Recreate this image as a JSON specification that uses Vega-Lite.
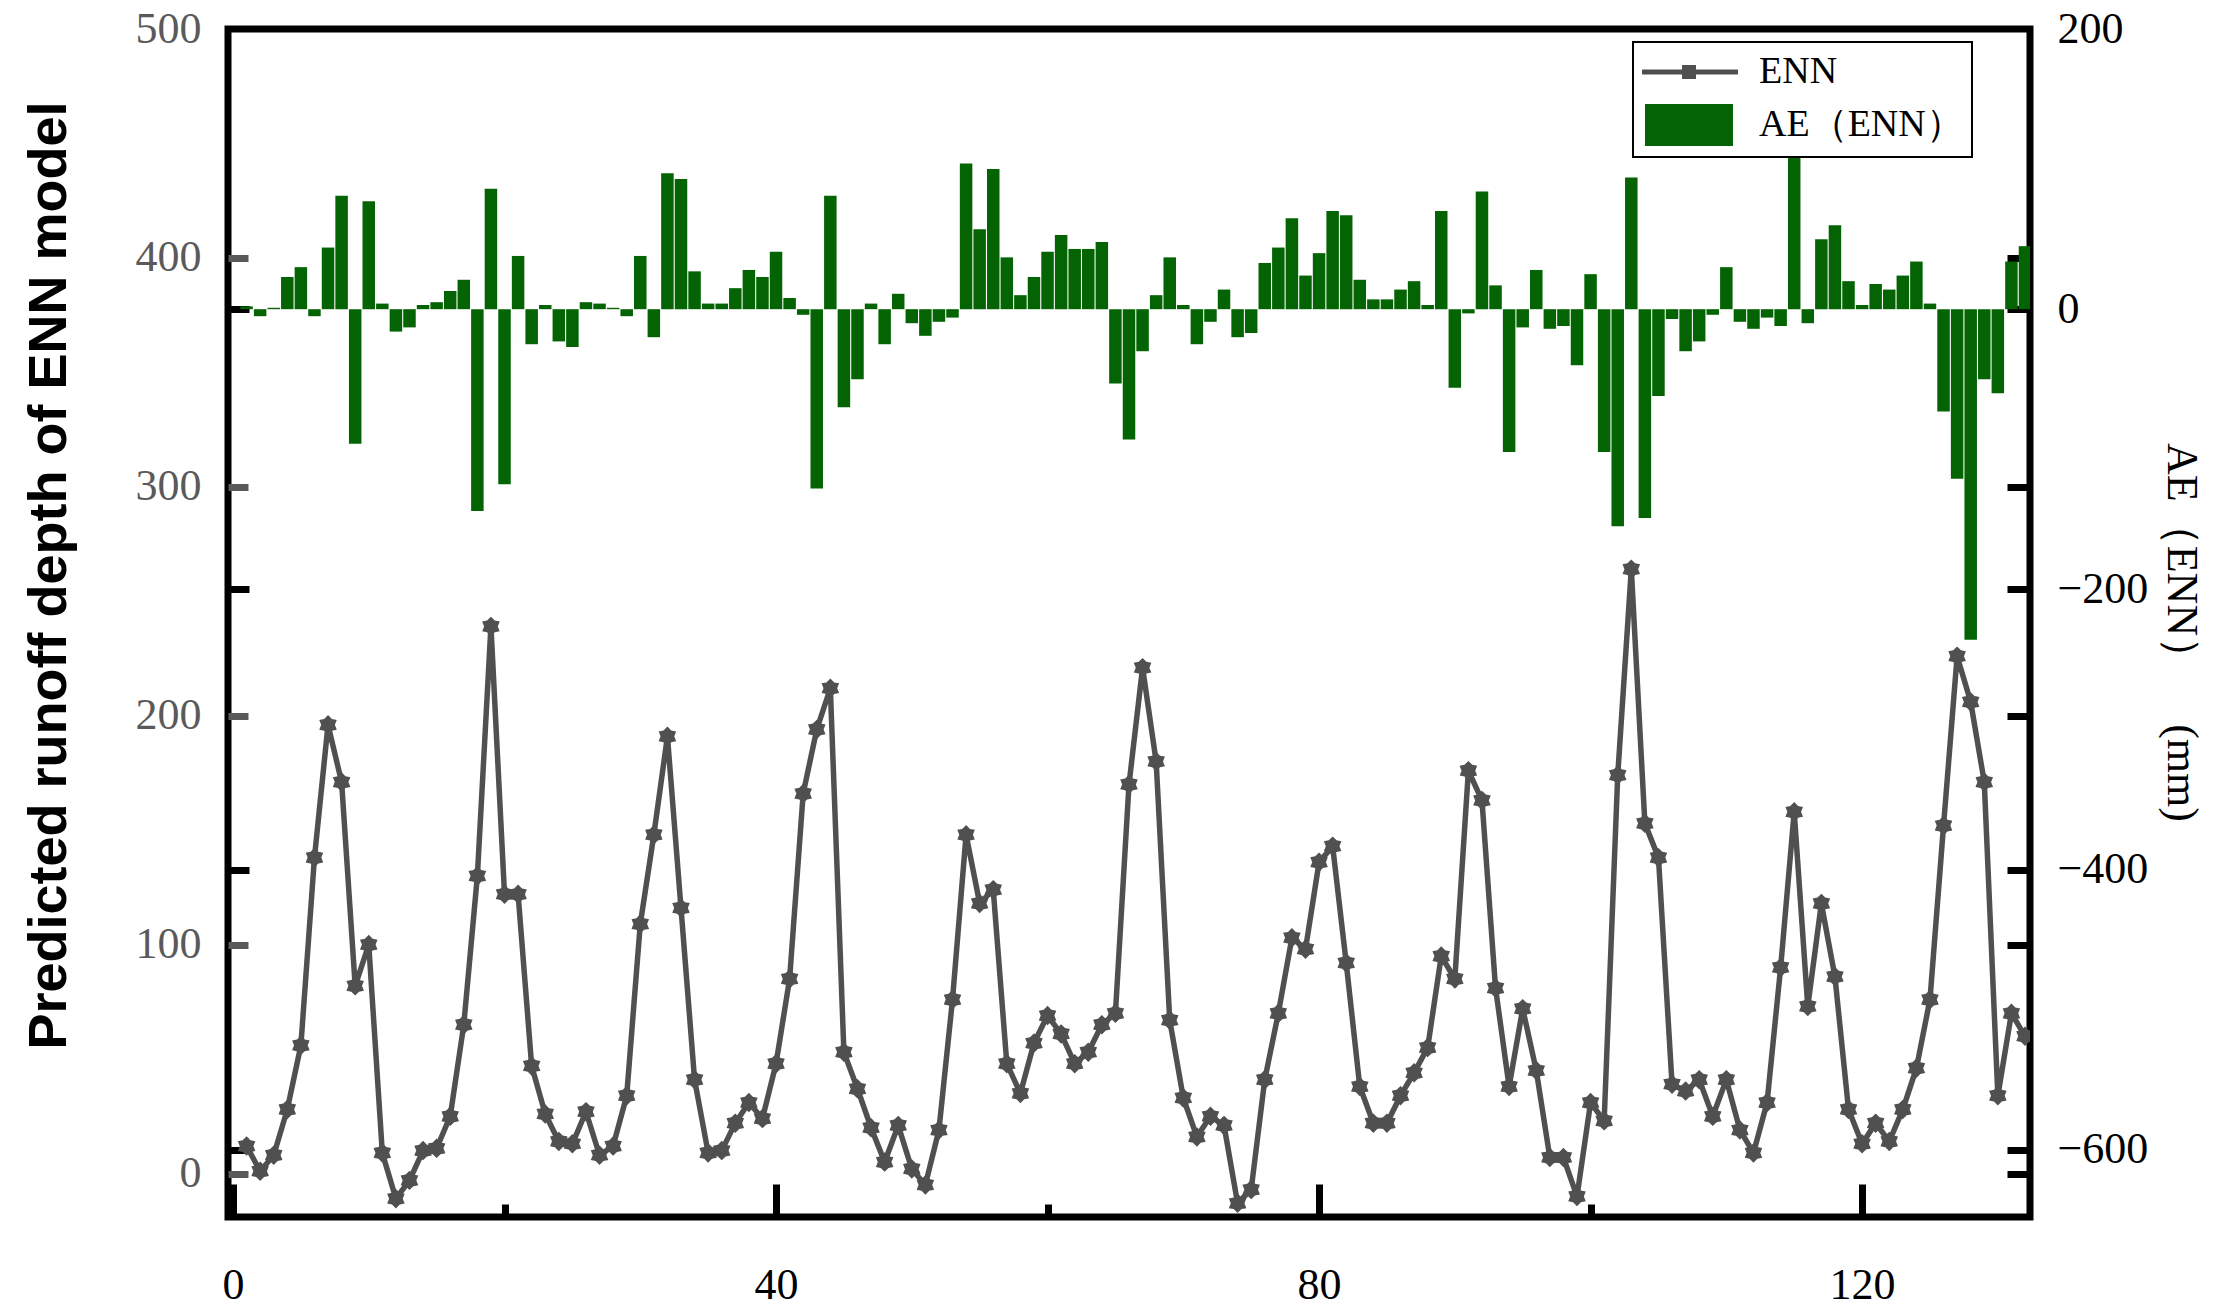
{
  "$schema": "https://vega.github.io/schema/vega-lite/v6.json",
  "width": 1802,
  "height": 1188,
  "autosize": "none",
  "padding": {"left": 228, "top": 29, "right": 191, "bottom": 96},
  "background": "white",
  "config": {
    "view": {"stroke": "black", "strokeWidth": 7},
    "axis": {"grid": false, "domain": false, "labelFlush": false, "labelOverlap": false}
  },
  "data": {"values": [
    {"x":1,"enn":12,"ae":2},{"x":2,"enn":1,"ae":-5},{"x":3,"enn":8,"ae":1},{"x":4,"enn":28,"ae":23},{"x":5,"enn":56,"ae":30},
    {"x":6,"enn":138,"ae":-5},{"x":7,"enn":196,"ae":44},{"x":8,"enn":171,"ae":81},{"x":9,"enn":82,"ae":-96},{"x":10,"enn":100,"ae":77},
    {"x":11,"enn":9,"ae":4},{"x":12,"enn":-11,"ae":-16},{"x":13,"enn":-3,"ae":-13},{"x":14,"enn":10,"ae":3},{"x":15,"enn":11,"ae":5},
    {"x":16,"enn":25,"ae":13},{"x":17,"enn":65,"ae":21},{"x":18,"enn":130,"ae":-144},{"x":19,"enn":239,"ae":86},{"x":20,"enn":122,"ae":-125},
    {"x":21,"enn":122,"ae":38},{"x":22,"enn":47,"ae":-25},{"x":23,"enn":26,"ae":3},{"x":24,"enn":14,"ae":-23},{"x":25,"enn":13,"ae":-27},
    {"x":26,"enn":27,"ae":5},{"x":27,"enn":8,"ae":4},{"x":28,"enn":12,"ae":1},{"x":29,"enn":34,"ae":-5},{"x":30,"enn":109,"ae":38},
    {"x":31,"enn":148,"ae":-20},{"x":32,"enn":191,"ae":97},{"x":33,"enn":116,"ae":93},{"x":34,"enn":41,"ae":27},{"x":35,"enn":9,"ae":4},
    {"x":36,"enn":10,"ae":4},{"x":37,"enn":22,"ae":15},{"x":38,"enn":31,"ae":28},{"x":39,"enn":24,"ae":23},{"x":40,"enn":48,"ae":41},
    {"x":41,"enn":85,"ae":8},{"x":42,"enn":166,"ae":-4},{"x":43,"enn":194,"ae":-128},{"x":44,"enn":212,"ae":81},{"x":45,"enn":53,"ae":-70},
    {"x":46,"enn":37,"ae":-50},{"x":47,"enn":20,"ae":4},{"x":48,"enn":5,"ae":-25},{"x":49,"enn":21,"ae":11},{"x":50,"enn":2,"ae":-10},
    {"x":51,"enn":-5,"ae":-19},{"x":52,"enn":19,"ae":-9},{"x":53,"enn":76,"ae":-6},{"x":54,"enn":148,"ae":104},{"x":55,"enn":118,"ae":57},
    {"x":56,"enn":124,"ae":100},{"x":57,"enn":48,"ae":37},{"x":58,"enn":35,"ae":10},{"x":59,"enn":57,"ae":23},{"x":60,"enn":69,"ae":41},
    {"x":61,"enn":61,"ae":53},{"x":62,"enn":48,"ae":43},{"x":63,"enn":53,"ae":43},{"x":64,"enn":65,"ae":48},{"x":65,"enn":70,"ae":-53},
    {"x":66,"enn":170,"ae":-93},{"x":67,"enn":221,"ae":-30},{"x":68,"enn":180,"ae":10},{"x":69,"enn":67,"ae":37},{"x":70,"enn":33,"ae":3},
    {"x":71,"enn":16,"ae":-25},{"x":72,"enn":25,"ae":-9},{"x":73,"enn":21,"ae":14},{"x":74,"enn":-13,"ae":-20},{"x":75,"enn":-7,"ae":-17},
    {"x":76,"enn":41,"ae":33},{"x":77,"enn":70,"ae":44},{"x":78,"enn":103,"ae":65},{"x":79,"enn":98,"ae":24},{"x":80,"enn":136,"ae":40},
    {"x":81,"enn":143,"ae":70},{"x":82,"enn":92,"ae":67},{"x":83,"enn":38,"ae":21},{"x":84,"enn":22,"ae":7},{"x":85,"enn":22,"ae":7},
    {"x":86,"enn":34,"ae":14},{"x":87,"enn":44,"ae":20},{"x":88,"enn":55,"ae":3},{"x":89,"enn":95,"ae":70},{"x":90,"enn":85,"ae":-56},
    {"x":91,"enn":176,"ae":-3},{"x":92,"enn":163,"ae":84},{"x":93,"enn":81,"ae":17},{"x":94,"enn":38,"ae":-102},{"x":95,"enn":72,"ae":-13},
    {"x":96,"enn":45,"ae":28},{"x":97,"enn":7,"ae":-14},{"x":98,"enn":7,"ae":-12},{"x":99,"enn":-10,"ae":-40},{"x":100,"enn":31,"ae":25},
    {"x":101,"enn":23,"ae":-102},{"x":102,"enn":174,"ae":-155},{"x":103,"enn":264,"ae":94},{"x":104,"enn":153,"ae":-149},{"x":105,"enn":138,"ae":-62},
    {"x":106,"enn":39,"ae":-7},{"x":107,"enn":36,"ae":-30},{"x":108,"enn":41,"ae":-23},{"x":109,"enn":25,"ae":-4},{"x":110,"enn":41,"ae":30},
    {"x":111,"enn":19,"ae":-9},{"x":112,"enn":9,"ae":-14},{"x":113,"enn":31,"ae":-6},{"x":114,"enn":90,"ae":-12},{"x":115,"enn":158,"ae":119},
    {"x":116,"enn":73,"ae":-10},{"x":117,"enn":118,"ae":50},{"x":118,"enn":86,"ae":60},{"x":119,"enn":28,"ae":20},{"x":120,"enn":13,"ae":3},
    {"x":121,"enn":22,"ae":18},{"x":122,"enn":14,"ae":14},{"x":123,"enn":28,"ae":24},{"x":124,"enn":46,"ae":34},{"x":125,"enn":76,"ae":4},
    {"x":126,"enn":152,"ae":-73},{"x":127,"enn":226,"ae":-121},{"x":128,"enn":206,"ae":-236},{"x":129,"enn":171,"ae":-50},{"x":130,"enn":34,"ae":-60},
    {"x":131,"enn":70,"ae":34},{"x":132,"enn":60,"ae":45}
  ]},
  "layer": [
    {
      "mark": {"type": "bar", "size": 12.5, "clip": true},
      "encoding": {
        "x": {"field": "x", "type": "quantitative", "scale": {"domain": [0, 132], "nice": false},
              "axis": {"orient": "bottom", "values": [0, 40, 80, 120], "format": "d", "title": null,
                       "labelFont": "Liberation Serif", "labelFontSize": 44, "labelColor": "black", "labelPadding": 79,
                       "ticks": true, "tickSize": -33, "tickWidth": 7, "tickColor": "black"}},
        "y": {"field": "ae", "type": "quantitative", "scale": {"domain": [-648, 200], "nice": false},
              "axis": {"orient": "right", "values": [-600, -400, -200, 0, 200], "title": "AE（ENN）\u3000(mm)",
                       "labelFont": "Liberation Serif", "labelFontSize": 44, "labelColor": "black", "labelPadding": 50,
                       "tickSize": -23, "tickWidth": 7,
                       "tickColor": {"condition": {"test": "datum.value === 200", "value": "transparent"}, "value": "black"},
                       "titleFont": "Liberation Serif", "titleFontSize": 44, "titleFontWeight": "normal", "titleColor": "black",
                       "titleAngle": 90, "titleX": 137, "titleY": 603, "titleAlign": "center", "titleBaseline": "alphabetic"}},
        "y2": {"datum": 0},
        "color": {"datum": "AE（ENN）", "scale": {"domain": ["ENN", "AE（ENN）"], "range": ["#505050", "#046404"]},
                  "legend": {"orient": "none", "legendX": 1405, "legendY": 13, "title": null, "direction": "vertical",
                             "padding": 8, "rowPadding": 10, "symbolSize": 1764, "labelOffset": 74, "labelLimit": 600,
                             "labelFont": "Liberation Serif", "labelFontSize": 38, "labelColor": "black",
                             "encode": {
                               "legend": {"update": {"stroke": {"value": "black"}, "strokeWidth": {"value": 2}, "fill": {"value": "white"}}},
                               "symbols": {"update": {
                                 "shape": {"signal": "datum.value === 'ENN' ? 'M-1,-0.12L0.905,-0.12L0.905,-0.33L1.571,-0.33L1.571,-0.12L3.571,-0.12L3.571,0.12L1.571,0.12L1.571,0.33L0.905,0.33L0.905,0.12L-1,0.12Z' : 'M-0.857,-1L3.333,-1L3.333,1L-0.857,1Z'"},
                                 "fill": {"signal": "datum.value === 'ENN' ? '#505050' : '#046404'"},
                                 "stroke": {"value": "transparent"},
                                 "opacity": {"value": 1},
                                 "fillOpacity": {"value": 1}
                               }}
                             }}}
      }
    },
    {
      "mark": {"type": "line", "color": "#505050", "strokeWidth": 5.5, "clip": true},
      "encoding": {
        "x": {"field": "x", "type": "quantitative", "scale": {"domain": [0, 132], "nice": false},
              "axis": {"orient": "bottom", "values": [20, 60, 100], "labels": false, "title": null,
                       "tickSize": -13, "tickWidth": 7, "tickColor": "black"}},
        "y": {"field": "enn", "type": "quantitative", "scale": {"domain": [-19, 500], "nice": false},
              "axis": {"orient": "left", "values": [0, 100, 200, 300, 400, 500], "title": "Predicted runoff depth of ENN model",
                       "labelFont": "Liberation Serif", "labelFontSize": 44, "labelColor": "#5a5a5a", "labelPadding": 47,
                       "tickSize": -20, "tickWidth": 7,
                       "tickColor": {"condition": {"test": "datum.value === 500", "value": "transparent"}, "value": "#5a5a5a"},
                       "titleFont": "Liberation Sans", "titleFontSize": 54, "titleFontWeight": "bold", "titleColor": "black",
                       "titleAngle": -90, "titleX": -163, "titleY": 546, "titleAlign": "center", "titleBaseline": "alphabetic"}}
      }
    },
    {
      "mark": {"type": "point", "filled": true, "opacity": 1, "color": "#505050", "size": 380, "clip": true,
               "shape": "M0,-1L0.4,-0.6L0.9,-0.5L0.7,0L0.9,0.5L0.4,0.6L0,1L-0.4,0.6L-0.9,0.5L-0.7,0L-0.9,-0.5L-0.4,-0.6Z"},
      "encoding": {
        "x": {"field": "x", "type": "quantitative", "scale": {"domain": [0, 132], "nice": false}, "axis": null},
        "y": {"field": "enn", "type": "quantitative", "scale": {"domain": [-19, 500], "nice": false},
              "axis": {"orient": "right", "values": [0, 100, 200, 300, 400], "labels": false, "title": null,
                       "tickSize": -23, "tickWidth": 7, "tickColor": "black"}}
      }
    },
    {
      "mark": {"type": "point", "opacity": 0},
      "encoding": {
        "x": {"field": "x", "type": "quantitative", "scale": {"domain": [0, 132], "nice": false}, "axis": null},
        "y": {"field": "ae", "type": "quantitative", "scale": {"domain": [-648, 200], "nice": false},
              "axis": {"orient": "left", "values": [-600, -400, -200, 0], "labels": false, "title": null,
                       "tickSize": -21, "tickWidth": 7, "tickColor": "black"}}
      }
    }
  ],
  "resolve": {"scale": {"y": "independent"}, "axis": {"x": "independent"}}
}
